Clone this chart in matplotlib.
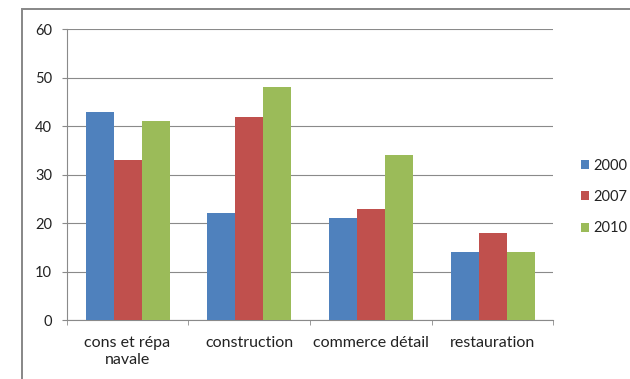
import matplotlib.pyplot as plt
import numpy as np
from matplotlib.patches import Rectangle

categories = ['cons et répa\nnavale', 'construction', 'commerce détail', 'restauration']
years = ['2000', '2007', '2010']
v2000 = [43, 22, 21, 14]
v2007 = [33, 42, 23, 18]
v2010 = [41, 48, 34, 14]
colors = ['#4F81BD', '#C0504D', '#9BBB59']

plt.rcParams['font.family'] = ['Lato', 'DejaVu Sans']

fig = plt.figure(figsize=(6.3, 3.79), dpi=100)
# outer chart border (cut by the image edge on the right and bottom)
fig.patches.append(Rectangle((22 / 630, -0.1), 1.2, 1 - 9.5 / 379 + 0.1,
                             transform=fig.transFigure, fill=False,
                             edgecolor='#878787', linewidth=1.4))

ax = fig.add_axes([66.7 / 630, 1 - 320 / 379, 486.7 / 630, 290.7 / 379])

x = np.arange(len(categories))
w = 0.23
for i, (vals, yr) in enumerate(zip([v2000, v2007, v2010], years)):
    ax.bar(x + (i - 1) * w, vals, w, color=colors[i], label=yr, zorder=3)

ax.set_xlim(-0.5, 3.5)
ax.set_ylim(0, 60)
ax.set_yticks(range(0, 61, 10))
ax.yaxis.grid(True, color='#8a8a8a', linewidth=0.8, zorder=0)
for s in ['top', 'right']:
    ax.spines[s].set_visible(False)
for s in ['left', 'bottom']:
    ax.spines[s].set_color('#8a8a8a')
ax.tick_params(axis='y', length=3.6, color='#8a8a8a', labelsize=10.5, pad=7,
               labelcolor='#222222')
ax.set_xticks(x)
ax.set_xticklabels(categories, fontsize=11.5, color='#222222', linespacing=1.25)
ax.tick_params(axis='x', length=0, pad=11.5)
ax.set_xticks(np.arange(-0.5, 4, 1), minor=True)
ax.tick_params(axis='x', which='minor', length=3.6, color='#8a8a8a')

fig.legend(loc='center left', bbox_to_anchor=(581 / 630, 1 - 197 / 379),
           bbox_transform=fig.transFigure, frameon=False, borderpad=0,
           borderaxespad=0, fontsize=10.5, handlelength=0.55,
           handleheight=0.55, handletextpad=0.27, labelspacing=1.2,
           labelcolor='#222222')

fig.savefig('out.png', dpi=100)
